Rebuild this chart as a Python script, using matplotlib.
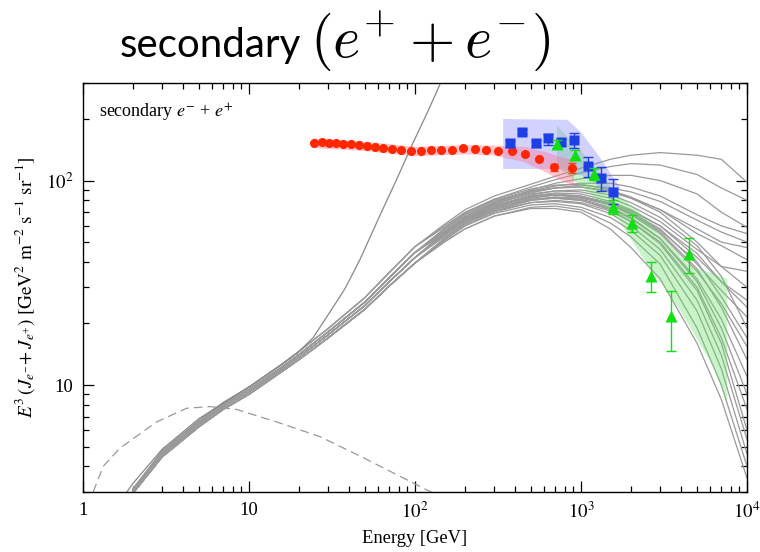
import numpy as np
import matplotlib
matplotlib.use("Agg")
import matplotlib.pyplot as plt
from matplotlib.ticker import FixedLocator, FixedFormatter, NullFormatter

plt.rcParams["font.family"] = ["Liberation Serif", "DejaVu Serif"]
plt.rcParams["mathtext.fontset"] = "stix"

# ---- model curves (gray bundle) ----
energy = [2, 3, 5, 7, 10, 15, 20, 30, 50, 70, 100,
          150, 200, 300, 500, 700, 1000, 1500, 2000, 3000, 5000, 7000, 10000]
# low-energy part of the bundle (2 ... 100 GeV), four slightly different tracks
low_c = [2.95, 4.45, 6.25, 7.6, 9.0, 11.3, 13.3, 17.0, 23.5, 30.5, 39.5]
low_a = [3.00, 4.55, 6.40, 7.8, 9.25, 11.6, 13.7, 17.6, 24.5, 32.0, 42.0]
low_b = [3.05, 4.65, 6.55, 8.0, 9.5, 11.9, 14.1, 18.2, 25.5, 33.5, 44.5]
low_d = [3.10, 4.75, 6.70, 8.2, 9.75, 12.25, 14.6, 18.9, 26.8, 35.5, 47.5]
# high-energy part (150 ... 10000 GeV) of every curve, with its low track
model_high = [
    (low_d, [61, 72, 84, 96, 105, 115, 127, 133, 137, 133, 127, 98]),
    (low_b, [58, 69, 81, 93, 101, 109, 117, 121, 119, 107, 92, 80]),
    (low_a, [56, 66, 78, 90, 97, 102, 106, 106, 100, 86, 70, 59]),
    (low_b, [58, 68, 79, 89, 94, 97, 97, 93, 84, 68, 60, 55]),
    (low_a, [55, 65, 77, 87, 92, 95, 92, 88, 79, 64, 56, 50]),
    (low_d, [60, 70, 81, 91, 95, 96, 90, 83, 72, 55, 48, 41]),
    (low_b, [56, 66, 77, 86, 89, 88, 82, 75, 63, 46, 38, 30]),
    (low_a, [55, 65, 75, 84, 87, 86, 79, 72, 60, 42, 32, 24]),
    (low_c, [52, 62, 73, 82, 85, 84, 77, 70, 58, 39, 29, 21.5]),
    (low_a, [54, 64, 74, 83, 85, 83, 76, 68, 55, 36, 25, 15.4]),
    (low_b, [56, 66, 76, 84, 86, 84, 77, 69, 56, 37, 24, 13.3]),
    (low_c, [52, 61, 71, 80, 82, 80, 73, 65, 52, 33, 21, 11]),
    (low_a, [54, 63, 73, 81, 83, 81, 74, 66, 52, 32, 19, 9.0]),
    (low_c, [51, 60, 70, 78, 80, 78, 71, 63, 50, 30, 17, 7.6]),
    (low_b, [55, 64, 73, 81, 82, 80, 72, 63, 49, 29, 16, 6.0]),
    (low_a, [53, 62, 71, 78, 79, 77, 69, 60, 46, 26, 14, 5.4]),
    (low_c, [51, 60, 69, 76, 77, 74, 66, 57, 43, 23, 12, 4.6]),
    (low_c, [50, 58, 67, 74, 75, 72, 62, 53, 39, 19, 10, 4.0]),
    (low_c, [50, 58, 67, 73, 73, 70, 58, 47, 33, 16, 8.5, 3.5]),
    (low_d, [59, 69, 80, 89, 92, 93, 88, 82, 72, 58, 50, 47]),
    (low_b, [57, 67, 78, 88, 92, 93, 89, 82, 70, 50, 38, 36]),
    (low_a, [54, 64, 75, 85, 89, 90, 85, 78, 66, 48, 34, 19]),
    (low_c, [52, 62, 72, 80, 83, 82, 76, 69, 57, 40, 27, 17]),
    (low_b, [56, 65, 75, 83, 85, 83, 78, 71, 60, 44, 32, 26]),
]

# the one curve that runs away upwards
steep_E = [1.84, 2, 3, 5, 10, 15, 19.5, 24.3, 30.7, 37.9, 46.6, 61.5, 77.9, 97.4, 120, 141, 163]
steep_V = [3.0, 3.3, 4.85, 6.85, 9.8, 12.3, 14.3, 17.0, 22.7, 29.6, 41.0, 67.5, 102, 153, 219, 294, 376]

# dashed curve
dash_E = [1.154, 1.326, 1.67, 2.78, 4.21, 5.82, 8.43, 14.7, 26.7, 46.6, 117, 130]
dash_V = [3.0, 4.0, 4.91, 6.6, 7.7, 7.85, 7.6, 6.6, 5.6, 4.5, 3.08, 2.95]

# ---- data points ----
red_E = [24.7, 27.4, 30.3, 33.4, 37.0, 41.0, 46.0, 51.2, 57.2, 64.4, 73.0, 82.4, 94.2,
         108, 125, 143, 166, 195, 230, 268, 318, 383, 460, 561, 690, 879]
red_V = [153, 154.5, 153, 153, 151, 150.5, 148.6, 146.9, 145.3, 143.6, 142, 141.4, 139,
         139, 140.6, 140.6, 141.8, 143.5, 142, 141.7, 140, 140, 135, 127.6, 116, 115.4]
red_err = [0, 0, 0, 0, 0, 0, 0, 0, 0, 0, 0, 0, 0, 0, 0, 0, 0, 0, 0, 0, 0, 0, 0, 2, 5, 6]
pink_E = [24, 50, 100, 200, 300, 450, 600, 750, 900]
pink_hi = [162, 156, 147, 150, 149, 147, 139, 131, 127]
pink_lo = [145, 140, 132, 135, 133, 124, 111, 101, 94]

blue_E = [373, 443, 535, 632, 758, 912, 1097, 1318, 1565]
blue_V = [152, 173, 152.6, 160.8, 154.4, 157.9, 117.4, 103, 87.7]
blue_lo = [146, 168, 146, 149, 149, 145, 104, 89, 77]
blue_hi = [158, 178, 158, 169, 160, 170, 130, 117, 102]
blue_band_E = [340, 830, 1000, 1300, 1720, 1560, 1080, 750, 340]
blue_band_V = [200, 198, 172, 130, 92, 83, 104, 114, 114]

green_E = [714, 920, 1202, 1565, 2020, 2640, 3460, 4490]
green_V = [151, 134, 108, 74, 62, 34.2, 21.7, 43.6]
green_lo = [145, 127, 101, 69, 56, 28.6, 14.7, 35.3]
green_hi = [157, 141, 115, 80, 67.6, 40, 28.8, 52.5]
green_band_E = [717, 1130, 1650, 2200, 3120, 4540, 5740, 7600, 7600, 6260, 3950, 2270, 1650, 1030, 717]
green_band_V = [185, 125, 86, 71, 53, 38, 36, 33, 8.2, 12.3, 23.2, 44, 66, 92, 116]

fig = plt.figure(figsize=(7.6, 5.52), dpi=100)
ax = fig.add_axes([0.109, 0.1087, 0.874, 0.741])

gray = "#9a9a9a"
for low, high in model_high:
    ax.plot(energy, low + high, color=gray, lw=0.9)
ax.plot(steep_E, steep_V, color="#888888", lw=0.9)
ax.plot(dash_E, dash_V, color="#999999", lw=0.9, dashes=(7, 4))

ax.fill(green_band_E, green_band_V, color="#66dd66", alpha=0.35, lw=0, zorder=3)
ax.fill(blue_band_E, blue_band_V, color="#7f7fff", alpha=0.35, lw=0, zorder=3)
ax.fill_between(pink_E, pink_lo, pink_hi, color="#ff7090", alpha=0.4, lw=0, zorder=3)

ax.errorbar(red_E, red_V, yerr=red_err, fmt="o", color="#ff2600", ms=6.5, mec="none",
            ecolor="#e05020", elinewidth=1, capsize=3, zorder=5)
ax.errorbar(blue_E, blue_V,
            yerr=[np.subtract(blue_V, blue_lo), np.subtract(blue_hi, blue_V)],
            fmt="s", color="#1f3fe6", ms=7, mec="none", elinewidth=1, capsize=3.5, zorder=6)
ax.errorbar(green_E, green_V,
            yerr=[np.subtract(green_V, green_lo), np.subtract(green_hi, green_V)],
            fmt="^", color="#10e010", ms=9, mec="none", elinewidth=1, capsize=3.5, zorder=7)

ax.set_xscale("log")
ax.set_yscale("log")
ax.set_xlim(1, 1e4)
ax.set_ylim(3, 300)

ax.xaxis.set_major_locator(FixedLocator([1, 10, 100, 1000, 10000]))
ax.xaxis.set_major_formatter(FixedFormatter(["1", "10", r"$10^2$", r"$10^3$", r"$10^4$"]))
ax.yaxis.set_major_locator(FixedLocator([10, 100]))
ax.yaxis.set_major_formatter(FixedFormatter(["10", r"$10^2$"]))
ax.xaxis.set_minor_formatter(NullFormatter())
ax.yaxis.set_minor_formatter(NullFormatter())
ax.tick_params(which="both", direction="in", top=True, right=True, labelsize=13.5, width=0.9)
ax.tick_params(which="major", length=8, pad=7)
ax.tick_params(which="minor", length=4.5)
for s in ax.spines.values():
    s.set_linewidth(1.0)

ax.set_xlabel("Energy [GeV]", fontsize=13.3, labelpad=6)
ax.set_ylabel(r"$E^3\,(J_{e^{-}}\!+J_{e^{+}})\;[\mathrm{GeV}^2\ \mathrm{m}^{-2}\ \mathrm{s}^{-1}\ \mathrm{sr}^{-1}]$",
              fontsize=13.8, labelpad=6)
ax.text(0.025, 0.955, r"secondary $e^{-}$ + $e^{+}$", transform=ax.transAxes,
        fontsize=13, va="top")

fig.text(120 / 760, 1 - 57 / 552, "secondary", ha="left", va="baseline",
         fontsize=29, family=["Lato", "DejaVu Sans"])
fig.text(310 / 760, 1 - 57 / 552, r"$(e^{+} + e^{-})$", ha="left", va="baseline",
         fontsize=42, math_fontfamily="cm")

fig.savefig("out.png", dpi=100)
